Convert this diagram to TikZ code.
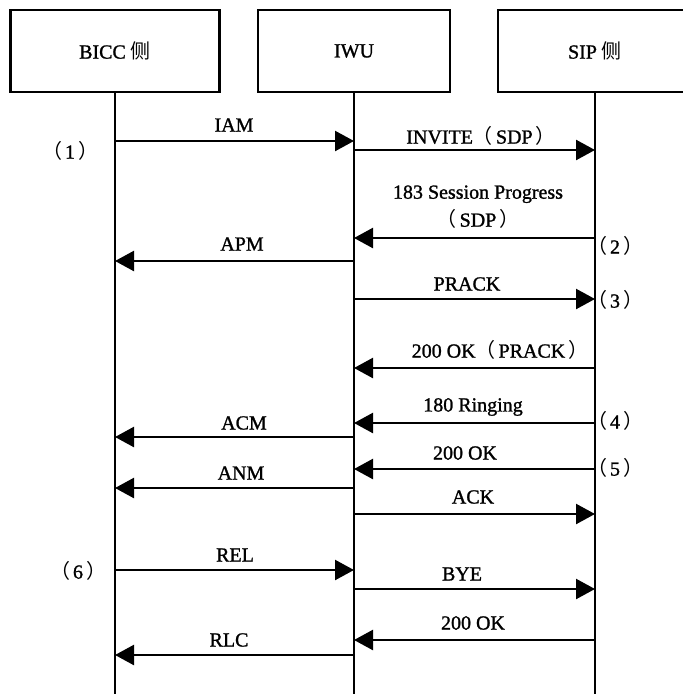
\documentclass[tikz,border=0pt]{standalone}
\usepackage{fontspec}
\setmainfont{Liberation Serif}[FakeBold=1.2]
\newfontfamily\cjk{Noto Sans CJK SC}
\usetikzlibrary{arrows.meta}
\newcommand{\fwl}{{\cjk （}\hspace{3pt}}
\newcommand{\fwr}{\hspace{3pt}{\cjk ）}}

\begin{document}
\begin{tikzpicture}[
    x=1pt, y=-1pt,
    font=\fontsize{20}{24}\selectfont,
    actor/.style={rectangle, draw, line width=2.6pt, minimum height=82pt},
    life/.style={line width=2.4pt},
    msg/.style={line width=2.4pt, -{Triangle[length=19pt,width=20pt]}},
    lbl/.style={inner sep=0pt, align=center},
    stepno/.style={inner sep=0pt}
]
\clip (0,0) rectangle (683,694);

% Nodes
\node[actor, minimum width=209pt] (bicc) at (115,51) {BICC {\cjk 侧}};
\node[actor, minimum width=192pt] (iwu) at (354,51) {IWU};
\node[actor, minimum width=194pt] (sip) at (595,51) {SIP {\cjk 侧}};

\coordinate (biccend) at (bicc |- 0,700);
\coordinate (iwuend) at (iwu |- 0,700);
\coordinate (sipend) at (sip |- 0,700);

% Lifelines
\draw[life] (bicc.south) -- (biccend);
\draw[life] (iwu.south) -- (iwuend);
\draw[life] (sip.south) -- (sipend);

% Messages
\foreach \src/\dst/\y/\lx/\ly/\txt [count=\i] in {
    bicc/iwu/141/234/125/IAM,
    iwu/sip/150/481/136/{INVITE\fwl SDP\fwr},
    sip/iwu/238/478/207/{183 Session Progress\\[4pt]\fwl SDP\fwr},
    iwu/bicc/261/242/244/APM,
    iwu/sip/299/467/284/PRACK,
    sip/iwu/368/500/350/{200 OK\fwl PRACK\fwr},
    sip/iwu/423/473/407/180 Ringing,
    iwu/bicc/437/244/423/ACM,
    sip/iwu/469/465/453/200 OK,
    iwu/bicc/488/241/473/ANM,
    iwu/sip/514/473/497/ACK,
    bicc/iwu/570/235/555/REL,
    iwu/sip/589/462/574/BYE,
    sip/iwu/640/473/623/200 OK,
    iwu/bicc/655/229/640/RLC}
{
    \draw[msg] (\src |- 0,\y) -- (\dst |- 0,\y);
    \node[lbl] (m\i) at (\lx,\ly) {\txt};
}

% Step numbers
\node[stepno] (s1) at (70,151) {\fwl 1\fwr};
\node[stepno] (s2) at (615,246) {\fwl 2\fwr};
\node[stepno] (s3) at (615,300) {\fwl 3\fwr};
\node[stepno] (s4) at (615,421) {\fwl 4\fwr};
\node[stepno] (s5) at (615,468) {\fwl 5\fwr};
\node[stepno] (s6) at (78,571) {\fwl 6\fwr};
\end{tikzpicture}
\end{document}
